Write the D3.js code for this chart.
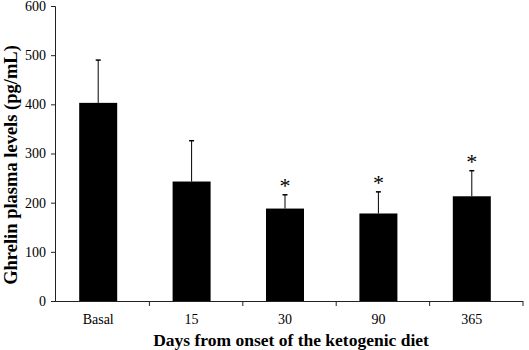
<!DOCTYPE html>
<html>
<head>
<meta charset="utf-8">
<script src="https://cdn.jsdelivr.net/npm/d3@7"></script>
<style>
  body { margin: 0; background: #fff; }
  text { font-family: "Liberation Serif", "Times New Roman", serif; }
</style>
</head>
<body>
<svg width="529" height="350"></svg>
<script>
// data
var days = ["Basal", "15", "30", "90", "365"]
var means = [403, 243, 188, 178, 213]
var errTop = [490, 326, 216, 222, 265]
var starred = [false, false, true, true, true]
var yTicks = [0, 100, 200, 300, 400, 500, 600]

var svg = d3.select("svg")

var x = d3.scaleBand().domain(days).range([56, 523])
var y = d3.scaleLinear().domain([0, 600]).range([301, 6])

var shift = -4.5, barW = 38

var rows = days.map((d, i) => ({day: d, mean: means[i], top: errTop[i], star: starred[i]}))
var cx = d => x(d.day) + x.bandwidth() / 2 + shift

// bars
svg.selectAll("rect.bar")
  .data(rows)
  .enter()
  .append("rect")
  .attr("class", "bar")
  .attr("x", d => cx(d) - barW / 2)
  .attr("width", barW)
  .attr("y", d => y(d.mean))
  .attr("height", d => y(0) - y(d.mean))
  .attr("fill", "#000")

// error bars (upper only)
var err = svg.selectAll("g.err").data(rows).enter().append("g").attr("class", "err")
err.append("line")
  .attr("x1", cx).attr("x2", cx)
  .attr("y1", d => y(d.mean)).attr("y2", d => y(d.top))
  .attr("stroke", "#000").attr("stroke-width", 1)
err.append("line")
  .attr("x1", d => cx(d) - 2.5).attr("x2", d => cx(d) + 2.5)
  .attr("y1", d => y(d.top)).attr("y2", d => y(d.top))
  .attr("stroke", "#000").attr("stroke-width", 1.5)

// significance stars
svg.selectAll("text.star")
  .data(rows.filter(d => d.star))
  .enter()
  .append("text")
  .attr("class", "star")
  .attr("x", cx)
  .attr("y", d => y(d.top) - 2)
  .attr("text-anchor", "middle")
  .attr("font-size", 22)
  .text("*")

// y axis
var yAxis = svg.append("g")
  .attr("transform", "translate(55,0)")
  .call(d3.axisLeft(y).tickValues(yTicks).tickSize(4).tickPadding(5))
yAxis.select(".domain").attr("stroke", "#222")
yAxis.selectAll(".tick line").attr("stroke", "#222")
yAxis.selectAll("text").attr("font-size", 14).attr("font-family", "Liberation Serif").attr("fill", "#000")

// x axis: ticks at band boundaries, labels under the bars
var xAxis = svg.append("g")
svg.append("line")
  .attr("x1", 55).attr("x2", 523)
  .attr("y1", y(0) + 0.5).attr("y2", y(0) + 0.5)
  .attr("stroke", "#222")
xAxis.selectAll("line")
  .data(days.slice(1).concat(["end"]))
  .enter()
  .append("line")
  .attr("x1", (d, i) => x(days[0]) + x.step() * (i + 1))
  .attr("x2", (d, i) => x(days[0]) + x.step() * (i + 1))
  .attr("y1", y(0)).attr("y2", y(0) + 5)
  .attr("stroke", "#222")
svg.selectAll("text.xlab")
  .data(rows)
  .enter()
  .append("text")
  .attr("class", "xlab")
  .attr("x", cx)
  .attr("y", 324)
  .attr("text-anchor", "middle")
  .attr("font-size", 14)
  .text(d => d.day)

// axis titles
svg.append("text")
  .attr("x", 291).attr("y", 346)
  .attr("text-anchor", "middle")
  .attr("font-size", 17.5).attr("font-weight", "bold")
  .text("Days from onset of the ketogenic diet")

svg.append("text")
  .attr("transform", "translate(17,165) rotate(-90)")
  .attr("text-anchor", "middle")
  .attr("font-size", 18.5).attr("font-weight", "bold")
  .text("Ghrelin plasma levels (pg/mL)")
</script>
</body>
</html>
